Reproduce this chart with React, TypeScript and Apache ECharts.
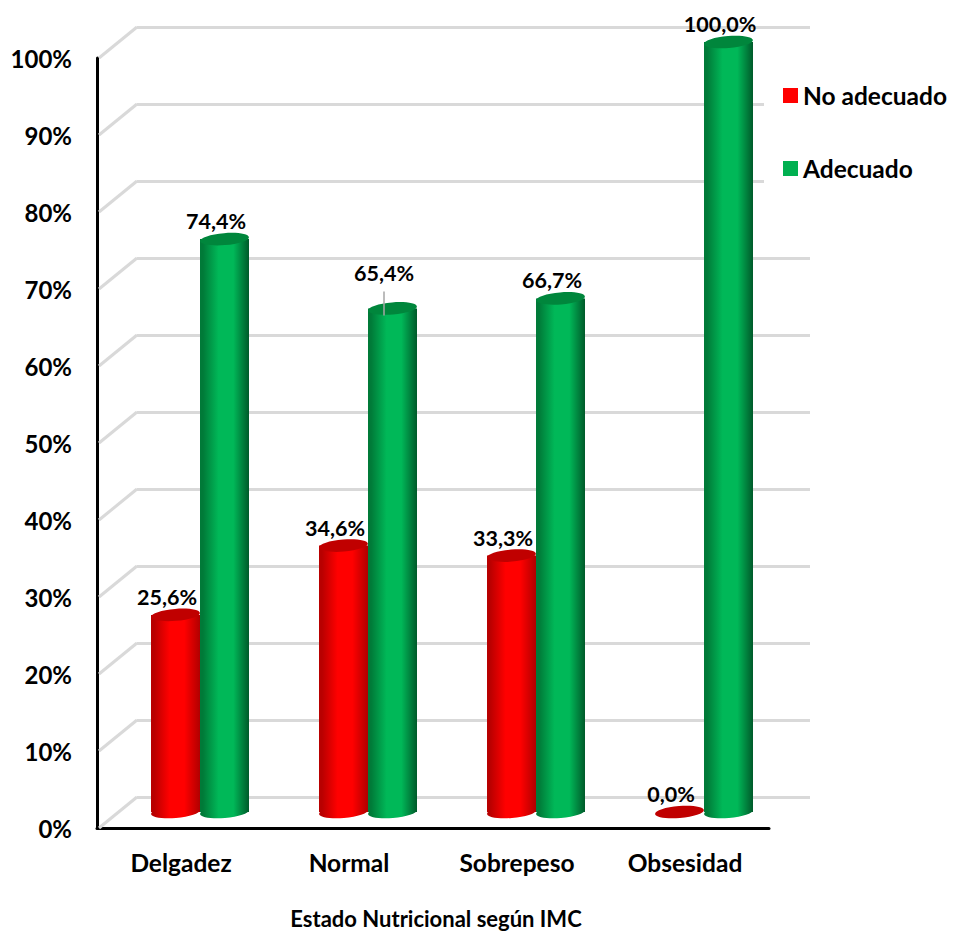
import React, { useEffect, useRef } from "react";
import * as echarts from "echarts";

const categories = ["Delgadez", "Normal", "Sobrepeso", "Obsesidad"];
const noAdecuado = [25.6, 34.6, 33.3, 0.0];
const adecuado = [74.4, 65.4, 66.7, 100.0];
const percentTicks = [0, 10, 20, 30, 40, 50, 60, 70, 80, 90, 100];

const FONT = "Lato, 'Noto Sans', sans-serif";

// Oblique projection: how far the back wall sits from the front axes.
const WALL_DX = 40;
const WALL_DY = -31;
// Cylinders stand halfway between the front axes and the wall.
const BAR_DX = 19;
const BAR_DY = -16;
const RX = 24.5;
const RY = 6;
const TILT = 0.08;

const shade = (edgeL: string, mid: string, edgeR: string) =>
  new echarts.graphic.LinearGradient(0, 0, 1, 0, [
    { offset: 0, color: edgeL },
    { offset: 0.06, color: edgeL },
    { offset: 0.38, color: mid },
    { offset: 0.68, color: mid },
    { offset: 1, color: edgeR },
  ]);

const formatPercent = (v: number) => v.toFixed(1).replace(".", ",") + "%";

// One cylinder with its value label; `side` places it left or right of the pair's seam.
function cylinder(
  values: number[],
  side: number,
  body: () => any,
  cap: string,
  raisedLabel: number
) {
  return (params: any, api: any) => {
    const idx = api.value(0);
    const v = values[idx];
    const top = api.coord([idx, v]);
    const base = api.coord([idx, 0]);
    const cx = top[0] + BAR_DX + side * RX;
    const ty = top[1] + BAR_DY;
    const by = base[1] + BAR_DY;
    const lifted = idx === raisedLabel;
    const labelX = cx - 8.5;
    const labelY = ty - (lifted ? 35 : 18);
    const children: any[] = [];
    if (v > 0) {
      const fill = body();
      children.push(
        { type: "ellipse", x: cx, y: by, rotation: TILT, shape: { cx: 0, cy: 0, rx: RX, ry: RY }, style: { fill } },
        { type: "rect", shape: { x: cx - RX, y: ty, width: RX * 2, height: by - ty }, style: { fill } }
      );
    }
    children.push({
      type: "ellipse",
      x: cx,
      y: ty,
      rotation: TILT,
      shape: { cx: 0, cy: 0, rx: RX, ry: RY },
      style: { fill: cap },
    });
    if (lifted) {
      children.push({
        type: "line",
        shape: { x1: labelX, y1: ty - 17, x2: labelX, y2: ty + 7 },
        style: { stroke: "#a6a6a6", lineWidth: 1.5 },
      });
    }
    children.push({
      type: "text",
      x: labelX,
      y: labelY,
      z2: 10,
      style: {
        text: formatPercent(v),
        fontFamily: FONT,
        fontWeight: "bold",
        fontSize: 21.5,
        fill: "#000",
        align: "center",
        verticalAlign: "middle",
      },
    });
    return { type: "group", children };
  };
}

export default function App() {
  const ref = useRef<HTMLDivElement>(null);

  useEffect(() => {
    const chart = echarts.init(ref.current!, null, { renderer: "svg" });
    chart.setOption({
      animation: false,
      backgroundColor: "#fff",
      grid: [
        { left: 97, top: 58, width: 672, height: 770, outerBoundsMode: "none" },
        { left: 97 + WALL_DX, top: 58 + WALL_DY, width: 673, height: 770, outerBoundsMode: "none" },
      ],
      legend: {
        data: ["No adecuado", "Adecuado"],
        orient: "vertical",
        left: 764,
        top: 71,
        padding: [12, 30, 12, 19],
        backgroundColor: "#fff",
        icon: "rect",
        itemWidth: 15,
        itemHeight: 15,
        itemGap: 48,
        textStyle: { fontFamily: FONT, fontWeight: "bold", fontSize: 24.5, lineHeight: 24, color: "#000" },
      },
      xAxis: [
        {
          type: "category",
          gridIndex: 0,
          data: categories,
          axisLine: { lineStyle: { color: "#000", width: 3 } },
          axisTick: { show: false },
          axisLabel: { fontFamily: FONT, fontWeight: "bold", fontSize: 24.5, color: "#000", margin: 22 },
          name: "Estado Nutricional según IMC",
          nameLocation: "center",
          nameGap: 81,
          nameTextStyle: {
            fontFamily: FONT,
            fontWeight: "bold",
            fontSize: 22,
            lineHeight: 18,
            color: "#000",
            padding: [0, 0, 0, 6],
          },
        },
        { type: "category", gridIndex: 1, data: categories, show: false },
      ],
      yAxis: [
        {
          type: "value",
          gridIndex: 0,
          min: 0,
          max: 100,
          interval: 10,
          axisLine: { show: true, lineStyle: { color: "#000", width: 3 } },
          axisTick: { show: false },
          splitLine: { show: false },
          axisLabel: {
            fontFamily: FONT,
            fontWeight: "bold",
            fontSize: 24,
            color: "#000",
            margin: 25,
            formatter: "{value}%",
          },
        },
        {
          type: "value",
          gridIndex: 1,
          min: 0,
          max: 100,
          interval: 10,
          axisLine: { show: false },
          axisTick: { show: false },
          axisLabel: { show: false },
          splitLine: { show: true, lineStyle: { color: "#d9d9d9", width: 3 } },
        },
      ],
      series: [
        {
          // Floor-to-wall diagonals at each tick of the front axis.
          type: "custom",
          name: "wall",
          xAxisIndex: 0,
          yAxisIndex: 0,
          silent: true,
          z: 1,
          data: percentTicks.map((t) => [0, t]),
          encode: { x: 0, y: 1 },
          renderItem: (params: any, api: any) => {
            const y = api.coord([0, api.value(1)])[1];
            const x = params.coordSys.x;
            return {
              type: "line",
              shape: { x1: x + 2, y1: y, x2: x + WALL_DX, y2: y + WALL_DY },
              style: { stroke: "#d9d9d9", lineWidth: 3 },
            };
          },
        },
        {
          type: "custom",
          name: "No adecuado",
          xAxisIndex: 0,
          yAxisIndex: 0,
          z: 3,
          itemStyle: { color: "#ff0000" },
          data: noAdecuado.map((v, i) => [i, v]),
          encode: { x: 0, y: 1 },
          renderItem: cylinder(noAdecuado, -1, () => shade("#b80000", "#ff0000", "#b00000"), "#c00000", -1),
        },
        {
          type: "custom",
          name: "Adecuado",
          xAxisIndex: 0,
          yAxisIndex: 0,
          z: 4,
          itemStyle: { color: "#00b050" },
          data: adecuado.map((v, i) => [i, v]),
          encode: { x: 0, y: 1 },
          renderItem: cylinder(adecuado, 1, () => shade("#007a38", "#00b858", "#005a2a"), "#00863c", 1),
        },
      ],
    });
    return () => chart.dispose();
  }, []);

  return <div ref={ref} style={{ position: "absolute", left: 0, top: 0, width: 953, height: 932 }} />;
}
